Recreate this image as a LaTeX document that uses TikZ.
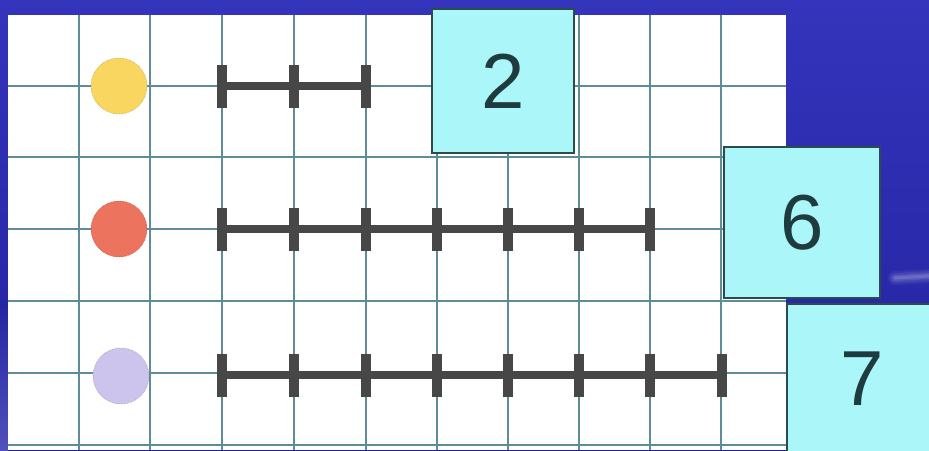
\documentclass[tikz,border=0pt]{standalone}
\usepackage{fontspec}
\setmainfont{Liberation Sans}
\begin{document}
\begin{tikzpicture}[x=1pt,y=-1pt,
  grid/.style={draw=gridc,line width=1.1pt},
  numbox/.style={draw=boxline,line width=2pt,fill=boxfill,minimum width=142pt,minimum height=144pt,inner sep=0pt,text=numc,font=\fontsize{78}{78}\selectfont},
  bar/.style={draw=barc,line width=8pt},
  tickm/.style={fill=barc},
  dot/.style={circle,minimum size=56pt,inner sep=0pt,draw=#1!70!black,densely dotted,line width=0.5pt,fill=#1}]
\definecolor{bgtop}{HTML}{3434BC}
\definecolor{bgbot}{HTML}{22229E}
\definecolor{gridc}{HTML}{5E8C98}
\definecolor{boxfill}{HTML}{ABF6F8}
\definecolor{boxline}{HTML}{2C4C4C}
\definecolor{numc}{HTML}{1E3C40}
\definecolor{barc}{HTML}{474747}
\definecolor{dotY}{HTML}{F8D660}
\definecolor{dotR}{HTML}{EC735E}
\definecolor{dotP}{HTML}{CCC4EC}
\useasboundingbox (0,0) rectangle (929,450);
% background
\shade[top color=bgtop,bottom color=bgbot] (0,0) rectangle (929,450);
\foreach \w/\o in {14/0.06,10/0.08,6/0.1,3/0.12}
  \draw[white,line width=\w pt,opacity=\o,line cap=round] (895,278) -- (929,276);
\shade[top color=bgbot,bottom color=white!30!bgtop,opacity=0.6] (0,300) rectangle (8,450);
% paper
\fill[white] (8,15) rectangle (786,450);
\foreach \x in {79,150,222,294,366,437,508,579,650,721}
  \draw[grid] (\x,15) -- (\x,450);
\foreach \y in {86,157,229,301,373,445}
  \draw[grid] (8,\y) -- (786,\y);
% dots
\node[dot=dotY] (dy) at (119,86) {};
\node[dot=dotR] (dr) at (119,229) {};
\node[dot=dotP] (dp) at (121,376) {};
% segments
\draw[bar] (222,86) -- (366,86);
\foreach \x in {222,294,366}
  \fill[tickm] (\x-5,65) rectangle (\x+5,108);
\draw[bar] (222,229) -- (650,229);
\foreach \x in {222,294,366,437,508,579,650}
  \fill[tickm] (\x-5,208) rectangle (\x+5,251);
\draw[bar] (222,375) -- (722,375);
\foreach \x in {222,294,366,437,508,579,650,722}
  \fill[tickm] (\x-5,354) rectangle (\x+5,397);
% boxes
\node[numbox] (b2) at (503,81) {2};
\node[numbox,minimum width=156pt,minimum height=151pt] (b6) at (802,222.5) {6};
\node[numbox,minimum width=150pt,minimum height=150pt] (b7) at (862,379) {7};
\end{tikzpicture}
\end{document}
